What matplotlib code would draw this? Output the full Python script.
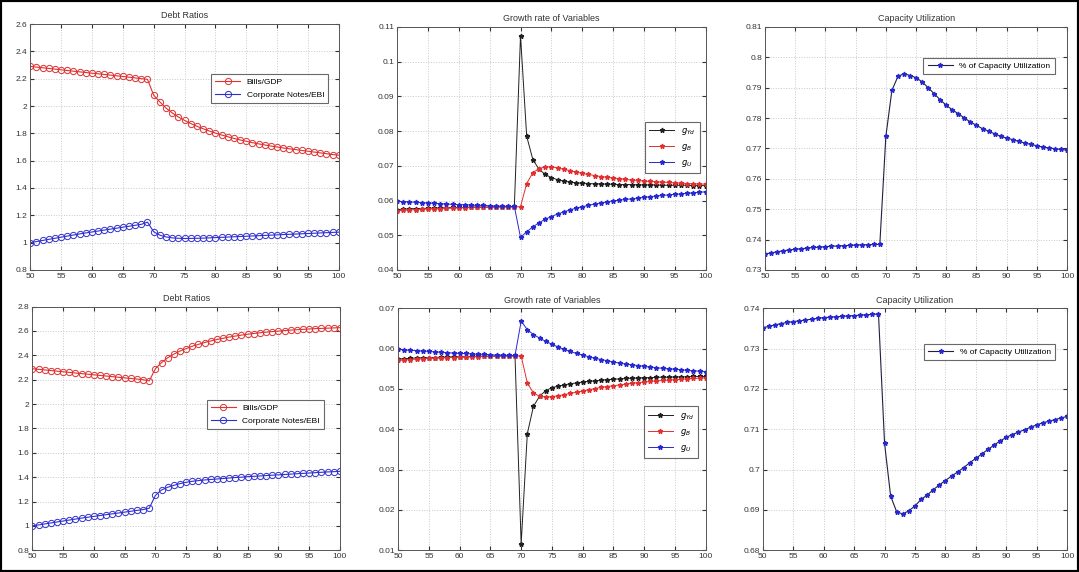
import numpy as np
import matplotlib.pyplot as plt
from matplotlib.patches import Rectangle
from matplotlib.ticker import FormatStrFormatter

plt.rcParams['font.family'] = ['Liberation Sans', 'DejaVu Sans']

years = list(range(50, 101))

# debt ratios, first scenario
tl_bills = [2.290, 2.285, 2.280, 2.275, 2.270, 2.265, 2.260, 2.255, 2.250, 2.245,
            2.240, 2.236, 2.231, 2.226, 2.221, 2.216, 2.211, 2.206, 2.200, 2.195,
            2.080, 2.030, 1.985, 1.950, 1.920, 1.895, 1.872, 1.852, 1.834, 1.817,
            1.802, 1.788, 1.775, 1.763, 1.752, 1.742, 1.732, 1.723, 1.715, 1.707,
            1.700, 1.693, 1.687, 1.681, 1.675, 1.669, 1.663, 1.657, 1.651, 1.645, 1.640]
tl_notes = [1.000, 1.008, 1.016, 1.024, 1.032, 1.040, 1.048, 1.056, 1.064, 1.071,
            1.078, 1.085, 1.092, 1.099, 1.106, 1.113, 1.120, 1.127, 1.134, 1.150,
            1.080, 1.055, 1.042, 1.035, 1.032, 1.031, 1.031, 1.032, 1.033, 1.035,
            1.037, 1.039, 1.041, 1.043, 1.045, 1.047, 1.049, 1.051, 1.053, 1.055,
            1.057, 1.059, 1.061, 1.063, 1.065, 1.067, 1.069, 1.071, 1.073, 1.075, 1.077]

# debt ratios, second scenario
bl_bills = [2.290, 2.285, 2.280, 2.275, 2.270, 2.265, 2.260, 2.255, 2.250, 2.245,
            2.240, 2.235, 2.230, 2.225, 2.220, 2.215, 2.210, 2.205, 2.200, 2.190,
            2.290, 2.340, 2.380, 2.410, 2.435, 2.455, 2.475, 2.490, 2.505, 2.518,
            2.530, 2.540, 2.550, 2.558, 2.566, 2.573, 2.579, 2.585, 2.590, 2.595,
            2.599, 2.603, 2.607, 2.610, 2.613, 2.616, 2.619, 2.621, 2.623, 2.625, 2.627]
bl_notes = [1.000, 1.008, 1.016, 1.024, 1.032, 1.040, 1.048, 1.056, 1.064, 1.071,
            1.078, 1.085, 1.092, 1.099, 1.106, 1.113, 1.120, 1.127, 1.134, 1.145,
            1.250, 1.295, 1.317, 1.333, 1.347, 1.358, 1.366, 1.372, 1.377, 1.381,
            1.385, 1.389, 1.393, 1.397, 1.400, 1.404, 1.407, 1.410, 1.413, 1.416,
            1.419, 1.422, 1.425, 1.428, 1.431, 1.434, 1.437, 1.440, 1.443, 1.445, 1.448]

# growth rates, first scenario
tm_gyd = [0.0574, 0.0575, 0.0576, 0.0577, 0.0577, 0.0578, 0.0578, 0.0579, 0.0579, 0.0580,
          0.0580, 0.0580, 0.0581, 0.0581, 0.0581, 0.0581, 0.0582, 0.0582, 0.0582, 0.0582,
          0.1075, 0.0785, 0.0718, 0.0690, 0.0675, 0.0666, 0.0660, 0.0656, 0.0653, 0.0651,
          0.0650, 0.0649, 0.0648, 0.0648, 0.0647, 0.0647, 0.0646, 0.0646, 0.0646, 0.0645,
          0.0645, 0.0645, 0.0645, 0.0644, 0.0644, 0.0644, 0.0644, 0.0644, 0.0643, 0.0643, 0.0643]
tm_gb = [0.0571, 0.0572, 0.0573, 0.0574, 0.0575, 0.0576, 0.0576, 0.0577, 0.0578, 0.0578,
         0.0579, 0.0579, 0.0580, 0.0580, 0.0581, 0.0581, 0.0581, 0.0582, 0.0582, 0.0582,
         0.0582, 0.0649, 0.0680, 0.0692, 0.0697, 0.0697, 0.0694, 0.0690, 0.0686, 0.0682,
         0.0678, 0.0675, 0.0672, 0.0669, 0.0667, 0.0665, 0.0663, 0.0661, 0.0659, 0.0658,
         0.0656, 0.0655, 0.0654, 0.0653, 0.0652, 0.0651, 0.0650, 0.0649, 0.0648, 0.0648, 0.0647]
tm_gu = [0.0598, 0.0597, 0.0596, 0.0595, 0.0594, 0.0593, 0.0592, 0.0591, 0.0590, 0.0589,
         0.0588, 0.0588, 0.0587, 0.0586, 0.0586, 0.0585, 0.0584, 0.0584, 0.0583, 0.0583,
         0.0494, 0.0510, 0.0524, 0.0536, 0.0546, 0.0554, 0.0561, 0.0567, 0.0573, 0.0578,
         0.0582, 0.0586, 0.0590, 0.0593, 0.0596, 0.0599, 0.0601, 0.0603, 0.0605, 0.0607,
         0.0609, 0.0611, 0.0613, 0.0615, 0.0616, 0.0618, 0.0619, 0.0621, 0.0622, 0.0624, 0.0625]

# growth rates, second scenario
bm_gyd = [0.0574, 0.0575, 0.0576, 0.0577, 0.0577, 0.0578, 0.0578, 0.0579, 0.0579, 0.0580,
          0.0580, 0.0580, 0.0581, 0.0581, 0.0581, 0.0581, 0.0582, 0.0582, 0.0582, 0.0582,
          0.0115, 0.0389, 0.0457, 0.0482, 0.0496, 0.0503, 0.0507, 0.0510, 0.0513, 0.0515,
          0.0517, 0.0519, 0.0520, 0.0522, 0.0523, 0.0524, 0.0525, 0.0526, 0.0527, 0.0527,
          0.0528, 0.0528, 0.0529, 0.0529, 0.0529, 0.0530, 0.0530, 0.0530, 0.0531, 0.0531, 0.0531]
bm_gb = [0.0571, 0.0572, 0.0573, 0.0574, 0.0575, 0.0576, 0.0576, 0.0577, 0.0578, 0.0578,
         0.0579, 0.0579, 0.0580, 0.0580, 0.0581, 0.0581, 0.0581, 0.0582, 0.0582, 0.0582,
         0.0582, 0.0515, 0.0490, 0.0482, 0.0480, 0.0481, 0.0483, 0.0486, 0.0489, 0.0492,
         0.0495, 0.0498, 0.0501, 0.0504, 0.0506, 0.0508, 0.0510, 0.0512, 0.0514, 0.0516,
         0.0517, 0.0519, 0.0520, 0.0521, 0.0522, 0.0523, 0.0524, 0.0525, 0.0526, 0.0527, 0.0528]
bm_gu = [0.0598, 0.0597, 0.0596, 0.0595, 0.0594, 0.0593, 0.0592, 0.0591, 0.0590, 0.0589,
         0.0588, 0.0588, 0.0587, 0.0586, 0.0586, 0.0585, 0.0584, 0.0584, 0.0583, 0.0583,
         0.0668, 0.0647, 0.0635, 0.0626, 0.0618, 0.0611, 0.0604, 0.0598, 0.0593, 0.0588,
         0.0584, 0.0580, 0.0576, 0.0573, 0.0570, 0.0567, 0.0564, 0.0562, 0.0560, 0.0558,
         0.0556, 0.0554, 0.0553, 0.0551, 0.0550, 0.0549, 0.0548, 0.0546, 0.0545, 0.0544, 0.0543]

# capacity utilization
tr_cu = [0.7353, 0.7356, 0.7360, 0.7363, 0.7366, 0.7368, 0.7370, 0.7372, 0.7374, 0.7375,
         0.7377, 0.7378, 0.7379, 0.7380, 0.7381, 0.7382, 0.7383, 0.7383, 0.7384, 0.7384,
         0.7740, 0.7891, 0.7937, 0.7946, 0.7940, 0.7933, 0.7919, 0.7900, 0.7880, 0.7860,
         0.7842, 0.7827, 0.7814, 0.7800, 0.7787, 0.7776, 0.7765, 0.7757, 0.7748, 0.7740,
         0.7734, 0.7729, 0.7723, 0.7718, 0.7713, 0.7709, 0.7704, 0.7702, 0.7699, 0.7697, 0.7694]
br_cu = [0.7352, 0.7355, 0.7359, 0.7362, 0.7365, 0.7367, 0.7369, 0.7371, 0.7373, 0.7375,
         0.7377, 0.7378, 0.7379, 0.7380, 0.7381, 0.7382, 0.7383, 0.7384, 0.7385, 0.7386,
         0.7065, 0.6934, 0.6895, 0.6890, 0.6898, 0.6910, 0.6926, 0.6937, 0.6950, 0.6962,
         0.6973, 0.6984, 0.6994, 0.7005, 0.7017, 0.7028, 0.7039, 0.7050, 0.7061, 0.7071,
         0.7080, 0.7087, 0.7093, 0.7099, 0.7105, 0.7111, 0.7116, 0.7120, 0.7124, 0.7128, 0.7132]

debt_labels = ['Bills/GDP', 'Corporate Notes/EBI']
growth_labels = ['$g_{Yd}$', '$g_{B}$', '$g_{U}$']
cu_label = '% of Capacity Utilization'


def style(ax, title, ylim, ystep):
    ax.set_xlim(50, 100)
    ax.set_ylim(*ylim)
    ax.set_xticks(np.arange(50, 101, 5))
    ax.set_yticks(np.arange(ylim[0], ylim[1] + ystep / 2, ystep))
    ax.yaxis.set_major_formatter(FormatStrFormatter('%g'))
    ax.grid(True, color='#c8c8c8', linestyle=':', linewidth=0.7)
    ax.tick_params(direction='in', top=True, right=True, length=3,
                   labelsize=6, colors='#333333', pad=2)
    for s in ax.spines.values():
        s.set_color('#555555')
        s.set_linewidth(0.7)
    ax.set_title(title, fontsize=6.5, color='#333333', pad=4)


def legend(ax, anchor):
    leg = ax.legend(loc='upper right', bbox_to_anchor=anchor, fontsize=6,
                    frameon=True, fancybox=False, edgecolor='#444444',
                    handlelength=3, borderpad=0.5, labelspacing=0.6)
    leg.get_frame().set_linewidth(0.8)


fig = plt.figure(figsize=(10.79, 5.72), dpi=100)

rects = {
    'tl': [0.028, 0.528, 0.286, 0.430],
    'tm': [0.368, 0.528, 0.286, 0.425],
    'tr': [0.709, 0.528, 0.280, 0.425],
    'bl': [0.030, 0.038, 0.285, 0.426],
    'bm': [0.369, 0.038, 0.285, 0.423],
    'br': [0.707, 0.038, 0.282, 0.423],
}

# debt ratios
for key, bills, notes, ylim, anchor in [('tl', tl_bills, tl_notes, (0.8, 2.6), (0.98, 0.815)),
                                        ('bl', bl_bills, bl_notes, (0.8, 2.8), (0.962, 0.635))]:
    ax = fig.add_axes(rects[key])
    ax.plot(years, bills, '-o', color='#e03030', mfc='none', ms=4.5, mew=0.7, lw=0.8,
            label=debt_labels[0])
    ax.plot(years, notes, '-o', color='#3030d0', mfc='none', ms=4.5, mew=0.7, lw=0.8,
            label=debt_labels[1])
    style(ax, 'Debt Ratios', ylim, 0.2)
    legend(ax, anchor)

# growth rates
for key, gyd, gb, gu, ylim, anchor in [('tm', tm_gyd, tm_gb, tm_gu, (0.04, 0.11), (0.994, 0.626)),
                                       ('bm', bm_gyd, bm_gb, bm_gu, (0.01, 0.07), (0.99, 0.612))]:
    ax = fig.add_axes(rects[key])
    ax.plot(years, gyd, '-*', color='#202020', ms=3.5, lw=0.7, label=growth_labels[0])
    ax.plot(years, gb, '-*', color='#e03030', ms=3.5, lw=0.7, label=growth_labels[1])
    ax.plot(years, gu, '-*', color='#2828d0', ms=3.5, lw=0.7, label=growth_labels[2])
    style(ax, 'Growth rate of Variables', ylim, 0.01)
    legend(ax, anchor)

# capacity utilization
for key, cu, ylim, anchor in [('tr', tr_cu, (0.73, 0.81), (0.972, 0.889)),
                              ('br', br_cu, (0.68, 0.74), (0.974, 0.87))]:
    ax = fig.add_axes(rects[key])
    ax.plot(years, cu, '-*', color='#202040', mec='#2828d0', mfc='#2828d0',
            ms=3.5, lw=0.8, label=cu_label)
    style(ax, 'Capacity Utilization', ylim, 0.01)
    legend(ax, anchor)

fig.patches.append(Rectangle((0, 0), 1, 1, transform=fig.transFigure,
                             fill=False, edgecolor='black', linewidth=3))

fig.savefig('out.png', dpi=100)
